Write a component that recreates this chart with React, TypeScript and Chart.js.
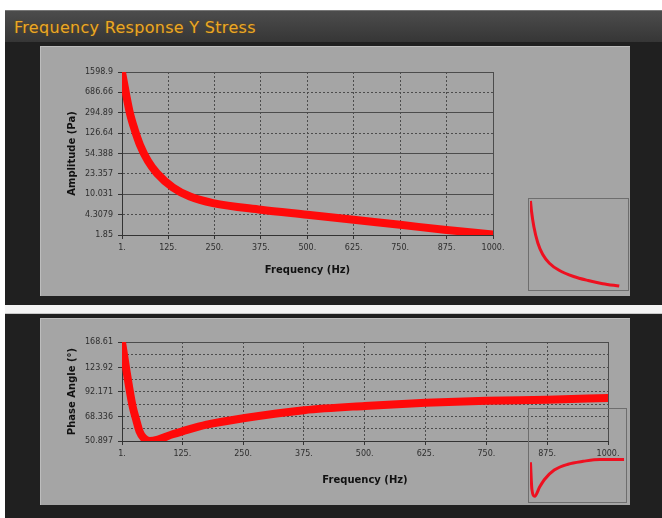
import React, { useEffect, useRef } from "react";
import { Chart, registerables } from "chart.js";
Chart.register(...registerables);

// ---------- data ----------
const freqTicks = [1, 125, 250, 375, 500, 625, 750, 875, 1000];
const freqTickLabels = ["1.", "125.", "250.", "375.", "500.", "625.", "750.", "875.", "1000."];

const ampTicks = [1.85, 4.3079, 10.031, 23.357, 54.388, 126.64, 294.89, 686.66, 1598.9];
const ampTickLabels = ["1.85", "4.3079", "10.031", "23.357", "54.388", "126.64", "294.89", "686.66", "1598.9"];

const ampFreq = [1, 12, 22.5, 36, 49.5, 71, 95, 138, 184, 246, 375, 500, 625, 750, 875, 1000];
const ampValues = [1598.9, 634, 286, 140, 77.7, 39.7, 24.0, 13.3, 9.13, 6.95, 5.29, 4.29, 3.47, 2.82, 2.28, 1.89];

const phaseTicks = [50.897, 68.336, 92.171, 123.92, 168.61];
const phaseTickLabels = ["50.897", "68.336", "92.171", "123.92", "168.61"];

const phaseFreq = [1, 5, 10, 15, 23, 30, 37, 45, 58, 75, 105, 125, 175, 250, 375, 500, 625, 750, 875, 1000];
const phaseValues = [168.6, 145, 120, 100, 77, 66, 57.2, 53, 50.9, 51.8, 55.2, 57.2, 62, 67, 73.9, 77.8, 80.8, 82.8, 83.9, 85.6];

// thumbnails (relative level, % of box height)
const thumbAmpFreq = [5, 15, 40, 80, 130, 200, 300, 450, 600, 750, 920];
const thumbAmpLevel = [99, 88, 70, 52, 39, 29, 21, 14, 9.5, 6, 3.3];

const thumbPhaseFreq = [5, 20, 50, 100, 150, 255, 400, 560, 735, 990];
const thumbPhaseLevel = [42.5, 12.8, 5.3, 15, 23.4, 34, 40.4, 43.6, 45.7, 45.7];

// ---------- styling ----------
const TICK_FONT = { family: "'DejaVu Sans', sans-serif", size: 8 };
const TITLE_FONT = { family: "'DejaVu Sans', sans-serif", size: 10, weight: "bold" as const };
const TICK_COLOR = "#2e2e2e";
const GRID_COLOR = "#4c4c4c";

function toPoints(xs: number[], ys: number[]) {
  return xs.map((x, i) => ({ x, y: ys[i] }));
}

function mainOptions(cfg: {
  pad: { top: number; right: number; bottom: number; left: number };
  xHeight: number;
  yWidth: number;
  yMin: number;
  yMax: number;
  yTicks: number[];
  yLabels: string[];
  yTitle: string;
  yMinor: boolean;
  yTitleOffset: number;
}) {
  const yTickValues: number[] = [];
  const yTickText: string[] = [];
  cfg.yTicks.forEach((v, i) => {
    yTickValues.push(v);
    yTickText.push(cfg.yLabels[i]);
    if (cfg.yMinor && i < cfg.yTicks.length - 1) {
      yTickValues.push(Math.sqrt(v * cfg.yTicks[i + 1]));
      yTickText.push("");
    }
  });
  return {
    animation: false as const,
    responsive: false,
    maintainAspectRatio: false,
    layout: { padding: cfg.pad },
    plugins: { legend: { display: false }, tooltip: { enabled: false } },
    elements: { point: { radius: 0 } },
    scales: {
      x: {
        type: "linear" as const,
        min: 1,
        max: 1000,
        bounds: "data" as const,
        afterBuildTicks: (s: any) => {
          s.ticks = freqTicks.map((v) => ({ value: v }));
        },
        afterFit: (s: any) => {
          s.height = cfg.xHeight;
        },
        ticks: {
          autoSkip: false,
          maxRotation: 0,
          padding: 4,
          font: TICK_FONT,
          color: TICK_COLOR,
          callback: (_v: any, i: number) => freqTickLabels[i],
        },
        grid: {
          color: GRID_COLOR,
          lineWidth: 1,
          tickLength: 4,
          tickColor: "#333",
        },
        border: {
          display: true,
          color: "#333",
          width: 1,
          dash: (ctx: any) => (ctx.index === 0 || ctx.index === freqTicks.length - 1 ? [] : [2, 2]),
        },
        title: {
          display: true,
          text: "Frequency (Hz)",
          font: TITLE_FONT,
          color: "#111",
          padding: { top: 0, bottom: 4 },
        },
      },
      y: {
        type: "logarithmic" as const,
        min: cfg.yMin,
        max: cfg.yMax,
        bounds: "data" as const,
        afterBuildTicks: (s: any) => {
          s.ticks = yTickValues.map((v) => ({ value: v }));
        },
        afterFit: (s: any) => {
          s.width = cfg.yWidth;
        },
        ticks: {
          autoSkip: false,
          padding: 5,
          font: TICK_FONT,
          color: TICK_COLOR,
          callback: (_v: any, i: number) => yTickText[i],
        },
        grid: {
          color: GRID_COLOR,
          lineWidth: 1,
          tickLength: 4,
          tickColor: (ctx: any) => (yTickText[ctx.index] === "" ? "rgba(0,0,0,0)" : "#333"),
        },
        border: {
          display: true,
          color: "#333",
          width: 1,
          dash: (ctx: any) => {
            if (ctx.index === yTickValues.length - 1) return [];
            if (cfg.yMinor) return [2, 2];
            return ctx.index % 2 === 0 ? [] : [2, 2];
          },
        },
        title: {
          display: true,
          text: cfg.yTitle,
          font: TITLE_FONT,
          color: "#111",
          padding: { top: cfg.yTitleOffset, bottom: 0 },
        },
      },
    },
  };
}

function thumbOptions() {
  return {
    animation: false as const,
    responsive: false,
    maintainAspectRatio: false,
    layout: { padding: 1 },
    plugins: { legend: { display: false }, tooltip: { enabled: false } },
    elements: { point: { radius: 0 } },
    scales: {
      x: { type: "linear" as const, min: 0, max: 1000, display: false },
      y: { type: "linear" as const, min: 0, max: 100, display: false },
    },
  };
}

export default function App() {
  const ampRef = useRef<HTMLCanvasElement>(null);
  const phaseRef = useRef<HTMLCanvasElement>(null);
  const ampThumbRef = useRef<HTMLCanvasElement>(null);
  const phaseThumbRef = useRef<HTMLCanvasElement>(null);

  useEffect(() => {
    const charts: Chart[] = [];
    charts.push(
      new Chart(ampRef.current!, {
        type: "line",
        data: {
          datasets: [
            {
              data: toPoints(ampFreq, ampValues),
              borderColor: "#ff0a0a",
              borderWidth: 8,
              borderCapStyle: "round",
              cubicInterpolationMode: "monotone",
              pointRadius: 0,
            },
          ],
        },
        options: mainOptions({
          pad: { top: 26, right: 137, bottom: 16, left: 0 },
          xHeight: 45,
          yWidth: 82,
          yMin: 1.85,
          yMax: 1598.9,
          yTicks: ampTicks,
          yLabels: ampTickLabels,
          yTitle: "Amplitude (Pa)",
          yMinor: false,
          yTitleOffset: 26,
        }) as any,
      })
    );
    charts.push(
      new Chart(phaseRef.current!, {
        type: "line",
        data: {
          datasets: [
            {
              data: toPoints(phaseFreq, phaseValues),
              borderColor: "#ff0a0a",
              borderWidth: 8,
              borderCapStyle: "round",
              cubicInterpolationMode: "monotone",
              pointRadius: 0,
            },
          ],
        },
        options: mainOptions({
          pad: { top: 24, right: 22, bottom: 15, left: 0 },
          xHeight: 49,
          yWidth: 82,
          yMin: 50.897,
          yMax: 168.61,
          yTicks: phaseTicks,
          yLabels: phaseTickLabels,
          yTitle: "Phase Angle (°)",
          yMinor: true,
          yTitleOffset: 26,
        }) as any,
      })
    );
    charts.push(
      new Chart(ampThumbRef.current!, {
        type: "line",
        data: {
          datasets: [
            {
              data: toPoints(thumbAmpFreq, thumbAmpLevel),
              borderColor: "#ee1020",
              borderWidth: 3,
              cubicInterpolationMode: "monotone",
              pointRadius: 0,
            },
          ],
        },
        options: thumbOptions() as any,
      })
    );
    charts.push(
      new Chart(phaseThumbRef.current!, {
        type: "line",
        data: {
          datasets: [
            {
              data: toPoints(thumbPhaseFreq, thumbPhaseLevel),
              borderColor: "#ee1020",
              borderWidth: 3,
              cubicInterpolationMode: "monotone",
              pointRadius: 0,
            },
          ],
        },
        options: thumbOptions() as any,
      })
    );
    return () => charts.forEach((c) => c.destroy());
  }, []);

  const abs = (l: number, t: number, w: number, h: number, extra: React.CSSProperties = {}): React.CSSProperties => ({
    position: "absolute",
    left: l,
    top: t,
    width: w,
    height: h,
    ...extra,
  });

  return (
    <div style={abs(0, 0, 662, 518, { background: "#ffffff", overflow: "hidden" })}>
      {/* top frame */}
      <div style={abs(5, 10, 657, 295, { background: "#202020" })} />
      <div
        style={abs(5, 10, 657, 32, {
          background: "linear-gradient(#4c4c4c, #363636)",
          borderTop: "1px solid #777",
          boxSizing: "border-box",
        })}
      >
        <span
          style={{
            position: "absolute",
            left: 9,
            top: 7,
            color: "#eba826",
            fontSize: 16,
            letterSpacing: 0.3,
            fontFamily: "'DejaVu Sans', sans-serif",
            whiteSpace: "nowrap",
            textShadow: "0 0 2px #6a4a10",
          }}
        >
          Frequency Response Y Stress
        </span>
      </div>
      <div style={abs(40, 46, 590, 250, { background: "#a5a5a5", boxShadow: "inset 1px 1px 0 #bdbdbd" })}>
        <canvas ref={ampRef} width={590} height={250} style={{ display: "block" }} />
      </div>
      <div style={abs(528, 198, 101, 93, { border: "1px solid #6e6e6e", boxSizing: "border-box" })}>
        <canvas ref={ampThumbRef} width={99} height={91} style={{ display: "block" }} />
      </div>

      {/* separator */}
      <div style={abs(5, 305, 657, 9, { background: "#f4f4f4", borderBottom: "1px solid #c8c8c8", boxSizing: "border-box" })} />

      {/* bottom frame */}
      <div style={abs(5, 314, 657, 204, { background: "#202020" })} />
      <div style={abs(40, 318, 590, 187, { background: "#a5a5a5", boxShadow: "inset 1px 1px 0 #bdbdbd" })}>
        <canvas ref={phaseRef} width={590} height={187} style={{ display: "block" }} />
      </div>
      <div style={abs(528, 408, 99, 95, { border: "1px solid #6e6e6e", boxSizing: "border-box" })}>
        <canvas ref={phaseThumbRef} width={97} height={93} style={{ display: "block" }} />
      </div>
    </div>
  );
}
